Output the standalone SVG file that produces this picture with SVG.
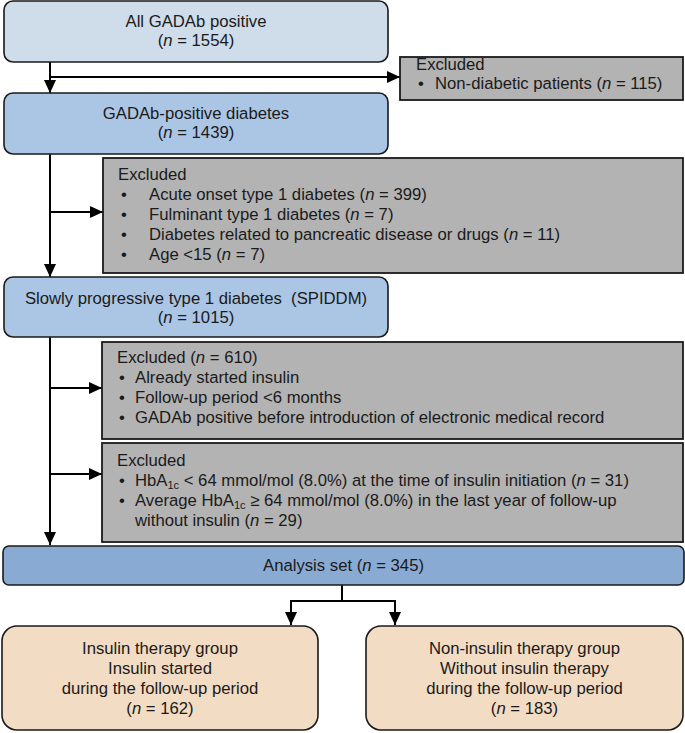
<svg xmlns="http://www.w3.org/2000/svg" width="685" height="733" viewBox="0 0 685 733">
<defs>
<style>
text{font-family:"Liberation Sans",Arial,sans-serif;font-size:16.7px;fill:#1a1a1a}
.c{text-anchor:middle}
.i{font-style:italic}
.sub{font-size:11px}
.box{stroke:#1a1a1a;stroke-width:1.6}
.b1{fill:#cfdcea}
.b2{fill:#abc5e4}
.ba{fill:#89aad3}
.ex{fill:#b3b3b3;stroke:#1a1a1a;stroke-width:1.8}
.bt{fill:#f2dcc4}
.ln{fill:none;stroke:#000;stroke-width:2}
</style>
<marker id="ah" markerUnits="userSpaceOnUse" markerWidth="14" markerHeight="12" refX="13" refY="6" orient="auto">
<path d="M0,0 L13,6 L0,12 Z" fill="#000"/>
</marker>
</defs>

<g id="connectors">
<line class="ln" x1="50" y1="62" x2="50" y2="93" marker-end="url(#ah)"/>
<line class="ln" x1="50" y1="77" x2="400" y2="77" marker-end="url(#ah)"/>
<line class="ln" x1="50" y1="154" x2="50" y2="277" marker-end="url(#ah)"/>
<line class="ln" x1="50" y1="212" x2="103" y2="212" marker-end="url(#ah)"/>
<line class="ln" x1="50" y1="337" x2="50" y2="545" marker-end="url(#ah)"/>
<line class="ln" x1="50" y1="388" x2="102" y2="388" marker-end="url(#ah)"/>
<line class="ln" x1="50" y1="474" x2="102" y2="474" marker-end="url(#ah)"/>
<polyline class="ln" points="342,585 342,601 291,601 291,625" marker-end="url(#ah)"/>
<polyline class="ln" points="342,601 395,601 395,625" marker-end="url(#ah)"/>
</g>

<g id="all">
<rect class="box b1" x="4" y="1" width="384" height="61" rx="9"/>
<text class="c" x="196" y="27">All GADAb positive</text>
<text class="c" x="196" y="46">(<tspan class="i">n</tspan> = 1554)</text>
</g>

<g id="excl1">
<rect class="ex" x="400" y="57" width="283" height="43"/>
<text x="416" y="70">Excluded</text>
<text x="418" y="89">•</text>
<text x="435" y="89">Non-diabetic patients (<tspan class="i">n</tspan> = 115)</text>
</g>

<g id="gadab-diabetes">
<rect class="box b2" x="4" y="93" width="384" height="61" rx="9"/>
<text class="c" x="196" y="119">GADAb-positive diabetes</text>
<text class="c" x="196" y="138">(<tspan class="i">n</tspan> = 1439)</text>
</g>

<g id="excl2">
<rect class="ex" x="103" y="158" width="580" height="115"/>
<text x="118" y="180">Excluded</text>
<text x="121" y="200">•</text>
<text x="149" y="200">Acute onset type 1 diabetes (<tspan class="i">n</tspan> = 399)</text>
<text x="121" y="220">•</text>
<text x="149" y="220">Fulminant type 1 diabetes (<tspan class="i">n</tspan> = 7)</text>
<text x="121" y="240">•</text>
<text x="149" y="240">Diabetes related to pancreatic disease or drugs (<tspan class="i">n</tspan> = 11)</text>
<text x="121" y="260">•</text>
<text x="149" y="260">Age &lt;15 (<tspan class="i">n</tspan> = 7)</text>
</g>

<g id="spiddm">
<rect class="box b2" x="4" y="277" width="384" height="60" rx="9"/>
<text class="c" x="196" y="304" xml:space="preserve">Slowly progressive type 1 diabetes  (SPIDDM)</text>
<text class="c" x="196" y="323">(<tspan class="i">n</tspan> = 1015)</text>
</g>

<g id="excl3">
<rect class="ex" x="102" y="342" width="581" height="97"/>
<text x="117" y="363">Excluded (<tspan class="i">n</tspan> = 610)</text>
<text x="119" y="383">•</text>
<text x="135" y="383">Already started insulin</text>
<text x="119" y="403">•</text>
<text x="135" y="403">Follow-up period &lt;6 months</text>
<text x="119" y="423">•</text>
<text x="135" y="423">GADAb positive before introduction of electronic medical record</text>
</g>

<g id="excl4">
<rect class="ex" x="102" y="443" width="581" height="99"/>
<text x="117" y="466">Excluded</text>
<text x="119" y="486">•</text>
<text x="135" y="486">HbA<tspan class="sub" dy="3">1c</tspan><tspan dy="-3"> &lt; 64 mmol/mol (8.0%) at the time of insulin initiation (</tspan><tspan class="i">n</tspan> = 31)</text>
<text x="119" y="506">•</text>
<text x="135" y="506">Average HbA<tspan class="sub" dy="3">1c</tspan><tspan dy="-3"> ≥ 64 mmol/mol (8.0%) in the last year of follow-up</tspan></text>
<text x="135" y="526">without insulin (<tspan class="i">n</tspan> = 29)</text>
</g>

<g id="analysis">
<rect class="box ba" x="3" y="546" width="681" height="39" rx="6"/>
<text class="c" x="343.5" y="571">Analysis set (<tspan class="i">n</tspan> = 345)</text>
</g>

<g id="insulin">
<rect class="box bt" x="2" y="626" width="316" height="104" rx="15"/>
<text class="c" x="160" y="654">Insulin therapy group</text>
<text class="c" x="160" y="674">Insulin started</text>
<text class="c" x="160" y="694">during the follow-up period</text>
<text class="c" x="160" y="714">(<tspan class="i">n</tspan> = 162)</text>
</g>

<g id="non-insulin">
<rect class="box bt" x="366" y="626" width="317" height="104" rx="15"/>
<text class="c" x="524.5" y="654">Non-insulin therapy group</text>
<text class="c" x="524.5" y="674">Without insulin therapy</text>
<text class="c" x="524.5" y="694">during the follow-up period</text>
<text class="c" x="524.5" y="714">(<tspan class="i">n</tspan> = 183)</text>
</g>
</svg>
